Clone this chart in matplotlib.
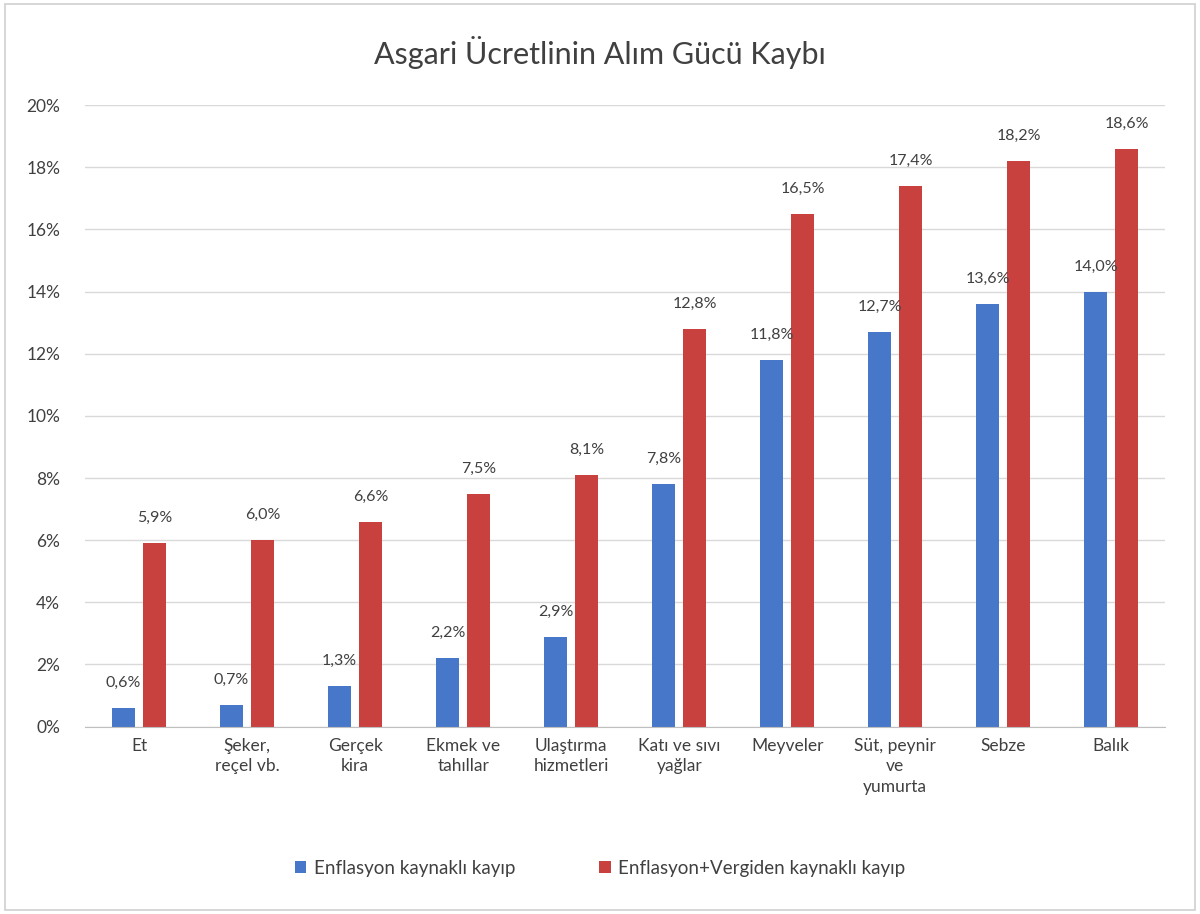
import numpy as np
import matplotlib.pyplot as plt
import matplotlib.ticker as ticker
from matplotlib.patches import Rectangle

plt.rcParams['font.family'] = ['Lato', 'DejaVu Sans']

categories = ['Et', 'Şeker,\nreçel vb.', 'Gerçek\nkira', 'Ekmek ve\ntahıllar',
              'Ulaştırma\nhizmetleri', 'Katı ve sıvı\nyağlar', 'Meyveler',
              'Süt, peynir\nve\nyumurta', 'Sebze', 'Balık']
enflasyon = [0.6, 0.7, 1.3, 2.2, 2.9, 7.8, 11.8, 12.7, 13.6, 14.0]
vergi = [5.9, 6.0, 6.6, 7.5, 8.1, 12.8, 16.5, 17.4, 18.2, 18.6]
series_names = ['Enflasyon kaynaklı kayıp', 'Enflasyon+Vergiden kaynaklı kayıp']

col = ['#4677c8', '#c8413f']

fig = plt.figure(figsize=(12, 9.14), dpi=100)
ax = fig.add_axes([0.071, 0.205, 0.900, 0.680])

x = np.arange(len(categories))
w = 0.215
off = 0.145
b1 = ax.bar(x - off, enflasyon, w, color=col[0], label=series_names[0])
b2 = ax.bar(x + off, vergi, w, color=col[1], label=series_names[1])

for bars, vals in [(b1, enflasyon), (b2, vergi)]:
    for b, v in zip(bars, vals):
        ax.annotate('{:.1f}%'.format(v).replace('.', ','),
                    (b.get_x() + b.get_width() / 2, v),
                    xytext=(0, 13), textcoords='offset points',
                    ha='center', va='bottom', fontsize=11.5, color='#404040')

ax.set_xlim(-0.5, len(categories) - 0.5)
ax.set_ylim(0, 20)
ax.yaxis.set_major_locator(ticker.MultipleLocator(2))
ax.yaxis.set_major_formatter(ticker.FuncFormatter(lambda v, p: '{:.0f}%'.format(v)))
ax.set_xticks(x)
ax.set_xticklabels(categories, fontsize=12.5, color='#404040', linespacing=1.35)
ax.tick_params(axis='y', labelsize=12.5, labelcolor='#404040', length=0, pad=18)
ax.tick_params(axis='x', length=0, pad=8)
ax.grid(axis='y', color='#d9d9d9', linewidth=1)
ax.set_axisbelow(True)
for s in ['top', 'right', 'left']:
    ax.spines[s].set_visible(False)
ax.spines['bottom'].set_color('#bfbfbf')

fig.text(0.5, 0.943, 'Asgari Ücretlinin Alım Gücü Kaybı', ha='center', va='center',
         fontsize=22, color='#404040')

fig.legend(loc='center', bbox_to_anchor=(0.5, 0.05), ncol=2, frameon=False,
           fontsize=13.5, handlelength=0.6, handleheight=0.6, columnspacing=4.5,
           handletextpad=0.4, labelcolor='#404040')

fig.patches.append(Rectangle((0.004, 0.004), 0.992, 0.992, transform=fig.transFigure,
                             fill=False, edgecolor='#d0d0d0', linewidth=1.2))

fig.savefig('out.png', dpi=100)
